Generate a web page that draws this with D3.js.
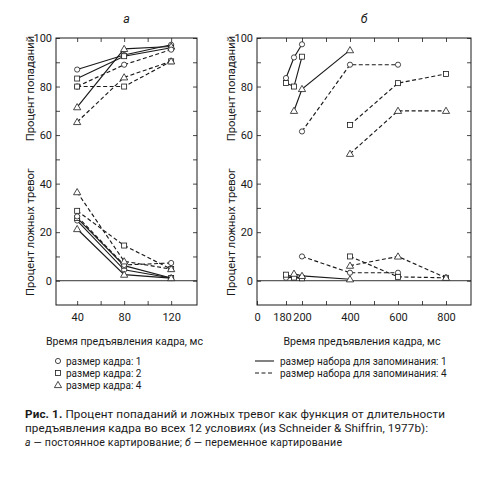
<!DOCTYPE html>
<html>
<head>
<meta charset="utf-8">
<script src="https://cdn.jsdelivr.net/npm/d3@7"></script>
<style>
  body { margin: 0; background: #fff; }
  text { font-family: Roboto, "Noto Sans", sans-serif; fill: #1a1a1a; }
</style>
</head>
<body>
<svg id="chart" width="492" height="480"></svg>
<script>
// data
// series order: M=1 (frame 1, 2, 4), then M=4 (frame 1, 2, 4)
let frameShapes = ['circle', 'square', 'triangle', 'circle', 'square', 'triangle'];
let setDashed = [false, false, false, true, true, true];

// panel a - consistent mapping
let cmTimes = [40, 80, 120];
let cmHits = [
  [87, 93, 97.2],
  [83.3, 92.5, 96],
  [71.5, 95.5, 96.5],
  [80, 89, 95.2],
  [80, 80, 90.4],
  [65.4, 83.8, 90.4]
];
let cmFalse = [
  [24.8, 4.5, 1.1],
  [25.8, 6.2, 1.1],
  [21.3, 2.5, 1.1],
  [26.5, 6.5, 7.3],
  [28.8, 14.5, 4.8],
  [36.5, 8, 4.8]
];

// panel b - varied mapping, every condition has its own frame times
let vmTimes = [
  [180, 190, 200],
  [180, 190, 200],
  [190, 200, 400],
  [200, 400, 600],
  [400, 600, 800],
  [400, 600, 800]
];
let vmHits = [
  [83.5, 92, 97.4],
  [81.5, 80, 92.3],
  [70, 79, 95],
  [61.5, 89, 89],
  [64.2, 81.4, 85.2],
  [52.3, 70, 70]
];
let vmFalse = [
  [1.2, 1.5, 1.4],
  [2.5, 1.3, 1],
  [2.9, 2, 0.6],
  [10, 3.3, 3.3],
  [10, 1.6, 1.2],
  [6.2, 10, 1.2]
];

let yTicks = [0, 10, 20, 30, 40, 50, 60, 70, 80, 90, 100];
let aTicks = [40, 60, 80, 100, 120];
let aLabels = [40, 80, 120];
let bTicks = [0, 180, 200, 300, 400, 500, 600, 700, 800];
let bLabels = [0, 180, 200, 400, 600, 800];

let frameLegend = ['размер кадра: 1', 'размер кадра: 2', 'размер кадра: 4'];
let setLegend = ['размер набора для запоминания: 1', 'размер набора для запоминания: 4'];

let ink = '#1a1a1a';
let svg = d3.select('#chart');

let y = d3.scaleLinear().domain([-10, 100]).range([305, 38]);
let xA = d3.scaleLinear().domain([22, 142]).range([56, 197]);
// broken scale: the 180-200 stretch is drawn wider
let xB = d3.scaleLinear().domain([0, 180, 200, 800, 904]).range([257, 286, 302, 446, 471]);

drawPanel(xA, 'а', aTicks, aLabels);
drawPanel(xB, 'б', bTicks, bLabels);

cmHits.forEach(function(vals, i) { drawSeries(xA, cmTimes, vals, i); });
cmFalse.forEach(function(vals, i) { drawSeries(xA, cmTimes, vals, i); });
vmHits.forEach(function(vals, i) { drawSeries(xB, vmTimes[i], vals, i); });
vmFalse.forEach(function(vals, i) { drawSeries(xB, vmTimes[i], vals, i); });

drawLegend();
drawCaption();

function drawPanel(x, title, ticks, labels) {
  let x0 = x.range()[0], x1 = x.range()[x.range().length - 1];
  let g = svg.append('g');

  // left axis, ticks pointing inward
  g.append('g')
    .attr('transform', 'translate(' + x0 + ',0)')
    .call(d3.axisLeft(y).tickValues(yTicks).tickSize(-4).tickPadding(4)
      .tickFormat(function(d) { return d % 20 === 0 ? d : ''; }));
  g.append('g')
    .attr('transform', 'translate(' + x1 + ',0)')
    .call(d3.axisRight(y).tickValues(yTicks).tickSize(-4).tickFormat(''));

  let bottom = g.append('g')
    .attr('transform', 'translate(0,' + y(-10) + ')')
    .call(d3.axisBottom(x).tickValues(ticks).tickSize(-4).tickPadding(8)
      .tickFormat(function(d) { return labels.indexOf(d) >= 0 ? d : ''; }));
  // the 180 label sits a little left of its tick
  bottom.selectAll('.tick text').filter(function(d) { return d === 180; }).attr('dx', -4);

  g.append('g')
    .attr('transform', 'translate(0,' + y(100) + ')')
    .call(d3.axisTop(x).tickValues(ticks.filter(function(d) { return d > x.domain()[0]; }))
      .tickSize(-4).tickFormat(''));

  g.selectAll('.domain').remove();
  g.selectAll('.tick line').attr('stroke', ink).attr('stroke-width', 0.8);
  g.selectAll('.tick text').style('font-size', '11px').attr('fill', ink);

  g.append('rect')
    .attr('x', x0).attr('y', y(100))
    .attr('width', x1 - x0).attr('height', y(-10) - y(100))
    .attr('fill', 'none').attr('stroke', ink).attr('stroke-width', 1);

  // zero line
  g.append('line')
    .attr('x1', x0).attr('x2', x1)
    .attr('y1', y(0)).attr('y2', y(0))
    .attr('stroke', ink).attr('stroke-width', 0.9);

  let cx = (x0 + x1) / 2;
  g.append('text')
    .attr('x', cx).attr('y', 23)
    .attr('text-anchor', 'middle')
    .style('font-style', 'italic').style('font-size', '12.5px')
    .text(title);

  g.append('text')
    .attr('x', cx - 2).attr('y', 345)
    .attr('text-anchor', 'middle')
    .style('font-size', '10.6px')
    .text('Время предъявления кадра, мс');

  // y titles, one for each half
  g.append('text')
    .attr('transform', 'translate(' + (x0 - 22) + ',' + (y(80) + 2) + ') rotate(-90)')
    .attr('text-anchor', 'middle')
    .style('font-size', '11.2px')
    .text('Процент попаданий');
  g.append('text')
    .attr('transform', 'translate(' + (x0 - 22) + ',' + y(20) + ') rotate(-90)')
    .attr('text-anchor', 'middle')
    .style('font-size', '11.2px')
    .text('Процент ложных тревог');
}

function drawSeries(x, times, vals, i) {
  let pts = vals.map(function(v, j) { return [x(times[j]), y(v)]; });
  svg.append('path')
    .attr('d', d3.line()(pts))
    .attr('fill', 'none')
    .attr('stroke', ink)
    .attr('stroke-width', 1.15)
    .attr('stroke-dasharray', setDashed[i] ? '4,2.5' : null);

  pts.forEach(function(p) { drawMarker(svg, frameShapes[i], p[0], p[1]); });
}

function drawMarker(g, shape, px, py) {
  if (shape === 'circle') {
    g.append('circle').attr('cx', px).attr('cy', py).attr('r', 2.6)
      .attr('fill', '#fff').attr('stroke', ink).attr('stroke-width', 0.8);
  } else if (shape === 'square') {
    g.append('rect').attr('x', px - 2.5).attr('y', py - 2.5)
      .attr('width', 5).attr('height', 5)
      .attr('fill', '#fff').attr('stroke', ink).attr('stroke-width', 0.8);
  } else {
    g.append('path')
      .attr('d', 'M' + px + ',' + (py - 3.6) + 'L' + (px + 3.6) + ',' + (py + 2.6) + 'L' + (px - 3.6) + ',' + (py + 2.6) + 'Z')
      .attr('fill', '#fff').attr('stroke', ink).attr('stroke-width', 0.8);
  }
}

function drawLegend() {
  let rowY = [361, 373, 385];
  frameLegend.forEach(function(label, i) {
    drawMarker(svg, frameShapes[i], 58, rowY[i]);
    svg.append('text')
      .attr('x', 66).attr('y', rowY[i] + 3.5)
      .style('font-size', '10px')
      .text(label);
  });

  setLegend.forEach(function(label, i) {
    svg.append('line')
      .attr('x1', 255).attr('x2', 274)
      .attr('y1', rowY[i]).attr('y2', rowY[i])
      .attr('stroke', ink).attr('stroke-width', 1.1)
      .attr('stroke-dasharray', i === 1 ? '4,2.5' : null);
    svg.append('text')
      .attr('x', 280).attr('y', rowY[i] + 3.5)
      .style('font-size', '10px')
      .text(label);
  });
}

function drawCaption() {
  // caption lines are set tight, so stretch them to the printed width
  let t1 = svg.append('text').attr('x', 25).attr('y', 418)
    .attr('textLength', 420).attr('lengthAdjust', 'spacing')
    .style('font-size', '11.7px');
  t1.append('tspan').style('font-weight', 'bold').text('Рис. 1.');
  t1.append('tspan').text(' Процент попаданий и ложных тревог как функция от длительности');

  svg.append('text').attr('x', 25).attr('y', 432)
    .attr('textLength', 403).attr('lengthAdjust', 'spacing')
    .style('font-size', '11.7px')
    .text('предъявления кадра во всех 12 условиях (из Schneider & Shiffrin, 1977b):');

  let t3 = svg.append('text').attr('x', 25).attr('y', 446)
    .attr('textLength', 317).attr('lengthAdjust', 'spacing')
    .style('font-size', '10.6px');
  t3.append('tspan').style('font-style', 'italic').text('а');
  t3.append('tspan').text(' — постоянное картирование; ');
  t3.append('tspan').style('font-style', 'italic').text('б');
  t3.append('tspan').text(' — переменное картирование');
}
</script>
</body>
</html>
